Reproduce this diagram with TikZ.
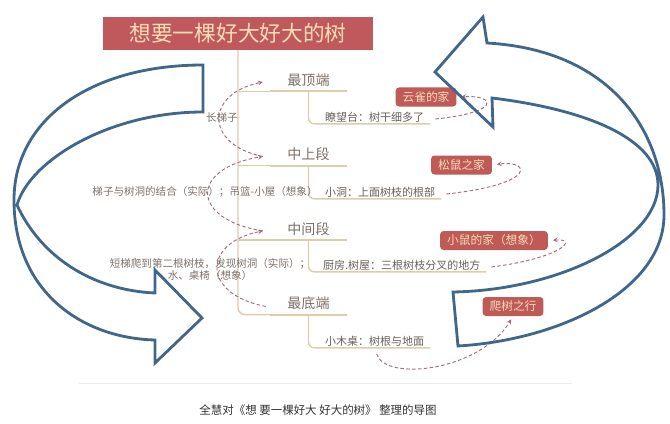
\documentclass[tikz,border=0pt]{standalone}
\usepackage{fontspec}
\setmainfont{Noto Sans CJK SC}
\usetikzlibrary{arrows, positioning, calc}
\definecolor{titlered}{HTML}{C0595B}
\definecolor{boxred}{HTML}{BF5A57}
\definecolor{cream}{HTML}{F5DDB8}
\definecolor{branchtan}{HTML}{DCCDAE}
\definecolor{labelgray}{HTML}{7D7068}
\definecolor{relpink}{HTML}{A66C7C}
\definecolor{arrowblue}{HTML}{40678A}

\begin{document}
\begin{tikzpicture}[x=0.03cm, y=-0.03cm,
    titlebox/.style={rectangle, fill=titlered, text=cream, minimum width=8.1cm, minimum height=0.99cm, font=\fontsize{18.5}{20}\selectfont},
    stage/.style={minimum width=2.31cm, minimum height=0.66cm, inner xsep=0pt, inner ysep=0pt, text=labelgray, font=\fontsize{12}{14}\selectfont},
    detail/.style={anchor=west, minimum height=0.4cm, inner xsep=5pt, inner ysep=0pt, text=labelgray!85!black, font=\fontsize{9.4}{11}\selectfont},
    relnote/.style={inner sep=1pt, text=labelgray, font=\fontsize{9}{9}\selectfont, align=center},
    nest/.style={rectangle, rounded corners=3pt, fill=boxred, text=cream, minimum height=0.57cm, inner xsep=6pt, font=\fontsize{10}{12}\selectfont},
    branch/.style={draw=branchtan, line width=1.2pt},
    stageline/.style={draw=branchtan, line width=1.8pt},
    link/.style={->, >=stealth, draw=relpink, line width=0.8pt, dash pattern=on 3pt off 2pt},
    bigarrow/.style={draw=arrowblue, line width=2.4pt, line join=miter}
]
\useasboundingbox (0,0) rectangle (670,424);

% title and levels
\node[titlebox] (title) at (238,33.5) {想要一棵好大好大的树};
\node[stage] (top) at (308.5,80) {最顶端};
\node[stage, below=1.56cm of top] (upper) {中上段};
\node[stage, below=1.56cm of upper] (middle) {中间段};
\node[stage, below=1.56cm of middle] (bottom) {最底端};

% details
\node[detail] (watch) at (319,117) {瞭望台：树干细多了};
\node[detail] (hole) at (319,192) {小洞：上面树枝的根部};
\node[detail] (kitchen) at (317,265) {厨房.树屋：三根树枝分叉的地方};
\node[detail] (desk) at (319,341) {小木桌：树根与地面};

% homes
\node[nest] (lark) at (426,97) {云雀的家};
\node[nest] (squirrel) at (461.5,165) {松鼠之家};
\node[nest] (mouse) at (494,240.5) {小鼠的家（想象）};
\node[nest] (climb) at (513,306.5) {爬树之行};

% branches
\draw[branch, rounded corners=6pt] (title.south) |- (bottom.south west);
\foreach \lv in {top, upper, middle}
    \draw[branch] (\lv.south west -| title.south) -- (\lv.south west);
\foreach \lv in {top, upper, middle, bottom}
    \draw[stageline] (\lv.south west) -- (\lv.south east);
\foreach \lv/\sb in {top/watch, upper/hole, middle/kitchen, bottom/desk}
    \draw[branch, rounded corners=5pt] (\lv.south) |- (\sb.south east);

% links between levels
\draw[link] ($(upper.west)+(-7,2)$) .. controls +(-58,-12) and +(-58,12) .. ($(top.west)+(-7,2)$);
\draw[link] ($(middle.west)+(-7,2)$) .. controls +(-73,-12) and +(-73,12) .. ($(upper.west)+(-7,2)$);
\draw[link] ($(bottom.west)+(-4,3)$) .. controls +(-64,-12) and +(-61,12) .. ($(middle.west)+(-7,2)$);
\node[relnote] (ladder) at (222,117) {长梯子};
\node[relnote] (join) at (205,192) {梯子与树洞的结合（实际）；吊篮-小屋（想象）};
\node[relnote] (short) at (210,269.5) {短梯爬到第二根树枝，发现树洞（实际）；\\水、桌椅（想象）};

% links to homes
\draw[link, shorten >=4pt] ($(watch.east)+(5,2)$) .. controls +(68,-7) and +(38,-2) .. (lark.east);
\draw[link, shorten >=4pt] ($(hole.east)+(5,2)$) .. controls +(92,-10) and +(38,-5) .. (squirrel.east);
\draw[link, shorten >=4pt] ($(kitchen.east)+(5,2)$) .. controls +(70,-9) and +(31,-2) .. (mouse.east);
\draw[link, shorten >=3pt] ($(desk.south)+(2,6)$) .. controls +(8,28) and +(-33,55) .. (climb.south);

% big arrows
\draw[bigarrow] (203,65) .. controls (90,65) and (14,120) .. (14,200)
    .. controls (14,290) and (80,338) .. (155,340) -- (155,363) -- (202,318) -- (155,270) -- (155,293)
    .. controls (90,290) and (40,255) .. (17,205) .. controls (30,160) and (110,112) .. (203,112) -- cycle;
\draw[bigarrow] (458,346) .. controls (560,340) and (664,290) .. (664,215)
    .. controls (664,130) and (610,50) .. (487,43) -- (483,17) -- (435,72) -- (493,127) -- (492,98)
    .. controls (590,110) and (658,140) .. (658,185) .. controls (658,240) and (560,290) .. (453,292) -- cycle;

% caption
\draw[black!8, line width=0.6pt] (79,383) -- (572,383);
\node[font=\fontsize{9.8}{12}\selectfont, text=black!80] (caption) at (318,410) {全慧对《想 要一棵好大 好大的树》 整理的导图};
\end{tikzpicture}
\end{document}
